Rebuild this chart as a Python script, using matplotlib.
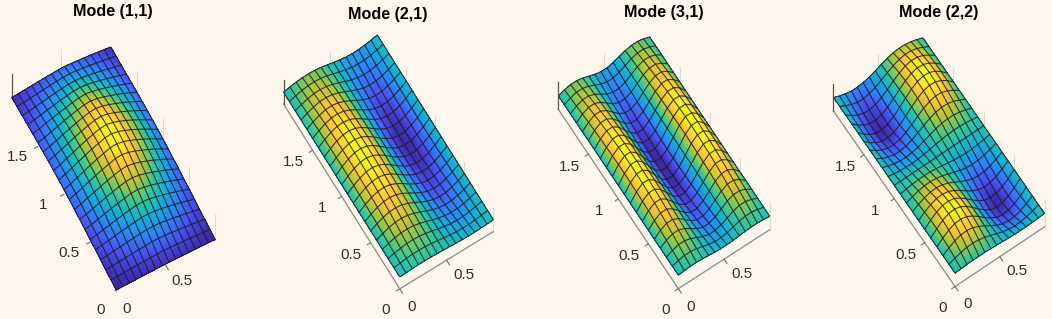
import numpy as np
import matplotlib
matplotlib.use('Agg')
import matplotlib.pyplot as plt
from matplotlib.colors import LinearSegmentedColormap
from mpl_toolkits.mplot3d import proj3d

plt.rcParams['font.family'] = ['Liberation Sans', 'DejaVu Sans']

# mode titles
titles = ['Mode (1,1)', 'Mode (2,1)', 'Mode (3,1)', 'Mode (2,2)']

# shape of each mode across the short side (16 nodes)
x_11 = [.20, .30, .42, .54, .66, .77, .87, .96, .99, .94, .85, .74, .62, .49, .35, .20]
x_21 = [0, .41, .74, .95, .99, .87, .59, .21, -.21, -.59, -.87, -.99, -.95, -.74, -.41, 0]
x_31 = [0, .59, .95, .95, .59, 0, -.59, -.95, -.95, -.59, 0, .59, .95, .95, .59, 0]
x_22 = [0, .41, .74, .95, .99, .87, .59, .21, -.21, -.59, -.87, -.99, -.95, -.74, -.41, 0]

# and along the long side (21 nodes)
y_11 = [.04, .13, .24, .35, .46, .57, .67, .77, .86, .93, .98, 1, .98, .93, .86, .77, .66, .54, .42, .31, .21]
y_21 = [.08, .20, .32, .44, .56, .67, .76, .84, .90, .95, .98, 1, .98, .94, .88, .80, .71, .61, .50, .39, .28]
y_31 = [.08, .22, .36, .50, .62, .73, .82, .89, .94, .98, 1, .99, .96, .91, .85, .77, .68, .58, .47, .36, .26]
y_22 = [.08, .40, .68, .88, .98, .93, .78, .60, .40, .20, 0, -.20, -.40, -.60, -.78, -.93, -.98, -.92, -.80, -.62, -.42]

x_profiles = [x_11, x_21, x_31, x_22]
y_profiles = [y_11, y_21, y_31, y_22]

y_ticks = [0, 0.5, 1, 1.5]
x_ticks = [0, 0.5]

# view and placement of every panel
azims = [-117.8, -121.8, -123.3, -124.2]
elevs = [75.5, 80.5, 79, 79]
z_heights = [0.87, 1.3, 1.3, 1.3]
z_lows = [0, -1, -1, -1]
origin_px = [(117, 290), (400, 277), (679, 275), (956, 273)]
far_px = [(110, 47), (377, 35), (649, 37), (922, 38)]
title_px = [(113, 11.5), (388, 14), (664, 12.5), (939, 13)]

parula = LinearSegmentedColormap.from_list('parula', [
    (0.2422, 0.1504, 0.6603), (0.2810, 0.3228, 0.9579), (0.1786, 0.5289, 0.9682),
    (0.0689, 0.6948, 0.8394), (0.2161, 0.7843, 0.5923), (0.6720, 0.7793, 0.2227),
    (0.9970, 0.7659, 0.2199), (0.9769, 0.9839, 0.0805)])

W, H = 1052, 319
bg = '#fdf6ec'
fig = plt.figure(figsize=(W / 100, H / 100), dpi=100, facecolor=bg)


def project(ax, x, y, z):
    px, py, _ = proj3d.proj_transform(x, y, z, ax.get_proj())
    return ax.transData.transform((px, py))


def place(ax, p0, p1, z0, z1):
    # move the axes until the plate corners land where they are in the picture
    t0 = np.array([p0[0], H - p0[1]], float)
    t1 = np.array([p1[0], H - p1[1]], float)
    size = 330.0
    cx, cy = (t0 + t1) / 2
    for i in range(3):
        ax.set_position([(cx - size / 2) / W, (cy - size / 2) / H, size / W, size / H])
        fig.canvas.draw()
        a0 = project(ax, 0, 0, z0)
        a1 = project(ax, 1, 2, z1)
        size *= np.linalg.norm(t1 - t0) / np.linalg.norm(a1 - a0)
        d = (t0 + t1) / 2 - (a0 + a1) / 2
        cx += d[0]
        cy += d[1]
    ax.set_position([(cx - size / 2) / W, (cy - size / 2) / H, size / W, size / H])
    fig.canvas.draw()


def label(ax, x, y, z, s):
    p = project(ax, x, y, z)
    fig.text(p[0] / W, p[1] / H, s, fontsize=11, color='#303030', ha='center', va='center')


for i in range(4):
    f = np.array(x_profiles[i])
    g = np.array(y_profiles[i])
    Z = np.outer(g, f)
    xs = np.linspace(0, 1, len(f))
    ys = np.linspace(0, 2, len(g))
    X, Y = np.meshgrid(xs, ys)
    low = z_lows[i]

    ax = fig.add_subplot(projection='3d', computed_zorder=False)
    ax.set_proj_type('ortho')
    ax.set_xlim(0, 1)
    ax.set_ylim(0, 2)
    ax.set_zlim(low, 1)
    ax.set_box_aspect((1, 2, z_heights[i]), zoom=1)
    ax.view_init(elev=elevs[i], azim=azims[i])
    ax.set_axis_off()
    ax.patch.set_alpha(0)
    place(ax, origin_px[i], far_px[i], Z[0, 0], Z[-1, -1])

    # finer facets only so the colour runs smoothly between the mesh lines
    xf = np.linspace(0, 1, 91)
    yf = np.linspace(0, 2, 121)
    ff = np.interp(xf, xs, f)
    gf = np.interp(yf, ys, g)
    Zf = np.outer(gf, ff)
    Xf, Yf = np.meshgrid(xf, yf)
    colors = parula((Zf - Zf.min()) / (Zf.max() - Zf.min()))

    # faint uprights at the back of the box
    for (px, py) in [(1, 0), (1, .5), (1, 1), (1, 1.5), (.5, 2)]:
        ax.plot([px, px], [py, py], [low, 1], color='#dcd8d2', lw=0.8, zorder=0)
    # axis lines and ticks, the first plate sits right on its axes
    if i > 0:
        ax.plot([0, 0], [2, 0], [low, low], color='#8a8a86', lw=0.9, zorder=0)
        ax.plot([0, 1], [0, 0], [low, low], color='#8a8a86', lw=0.9, zorder=0)
    ax.plot([0, 0], [2, 2], [low, 1], color='#55534f', lw=0.9, zorder=0)
    for t in y_ticks:
        ax.plot([0, -.035], [t, t], [low, low], color='#6f6f6b', lw=0.8, zorder=0)
    for t in x_ticks:
        ax.plot([t, t], [0, -.05], [low, low], color='#6f6f6b', lw=0.8, zorder=0)

    ax.plot_surface(Xf, Yf, Zf, rstride=1, cstride=1, facecolors=colors, shade=False,
                    linewidth=0, antialiased=False, zorder=1)
    ax.plot_wireframe(X, Y, Z, rstride=1, cstride=1, color='#1c1c22', linewidth=0.8, alpha=0.85, zorder=2)

    for t in y_ticks:
        off = -.1 if t == 0 else 0
        label(ax, -.21, t + off, low, '%g' % t)
    for t in x_ticks:
        label(ax, t + .06 if t else 0, -.2, low, '%g' % t)

    fig.text(title_px[i][0] / W, 1 - title_px[i][1] / H, titles[i], fontsize=11.6, fontweight='bold',
             color='black', ha='center', va='center')

fig.savefig('out.png', dpi=100, facecolor=bg)
